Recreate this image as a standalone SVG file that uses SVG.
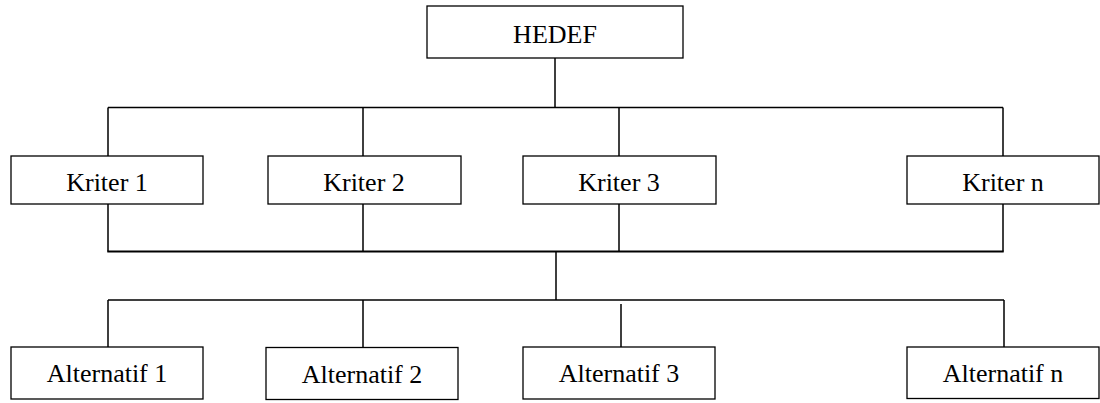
<svg xmlns="http://www.w3.org/2000/svg" width="1100" height="403" viewBox="0 0 1100 403">
<style>
.box{fill:#fff;stroke:#000;stroke-width:1.3}
.lbl{font-family:"Liberation Serif","Times New Roman",serif;font-size:26px;fill:#000;text-anchor:middle}
.ln{stroke:#000;stroke-width:1.5;fill:none}
.thick{stroke:#000;stroke-width:2;fill:none}
</style>
<rect width="1100" height="403" fill="#fff"/>
<g id="connectors">
<path class="ln" d="M555 58V107.5M108 107.5H1003M108 107.5V156M363 107.5V156M619 107.5V156M1003 107.5V156"/>
<path class="ln" d="M108 204V251.5M363 204V251.5M619 204V251.5M1003 204V251.5"/>
<path class="thick" d="M107.3 251.5H1003.7"/>
<path class="ln" d="M556 251.5V300M108 300H1004M108 300V347M363 300V347M621 304V347M1004 300V347"/>
</g>
<g id="hedef"><rect class="box" x="427" y="6" width="256" height="52"/><text class="lbl" x="555" y="43">HEDEF</text></g>
<g id="kriter1"><rect class="box" x="11" y="156" width="192" height="48"/><text class="lbl" x="107" y="191">Kriter 1</text></g>
<g id="kriter2"><rect class="box" x="268" y="156" width="193" height="48"/><text class="lbl" x="364" y="191">Kriter 2</text></g>
<g id="kriter3"><rect class="box" x="523" y="156" width="193" height="48"/><text class="lbl" x="619" y="191">Kriter 3</text></g>
<g id="kritern"><rect class="box" x="907" y="156" width="192" height="48"/><text class="lbl" x="1003" y="191">Kriter n</text></g>
<g id="alt1"><rect class="box" x="11" y="347" width="192" height="52"/><text class="lbl" x="107" y="382">Alternatif 1</text></g>
<g id="alt2"><rect class="box" x="266" y="347.5" width="192" height="52"/><text class="lbl" x="362" y="382.5">Alternatif 2</text></g>
<g id="alt3"><rect class="box" x="523" y="347" width="192" height="52"/><text class="lbl" x="619" y="382">Alternatif 3</text></g>
<g id="altn"><rect class="box" x="907" y="347" width="192" height="51.5"/><text class="lbl" x="1003" y="382">Alternatif n</text></g>
</svg>
